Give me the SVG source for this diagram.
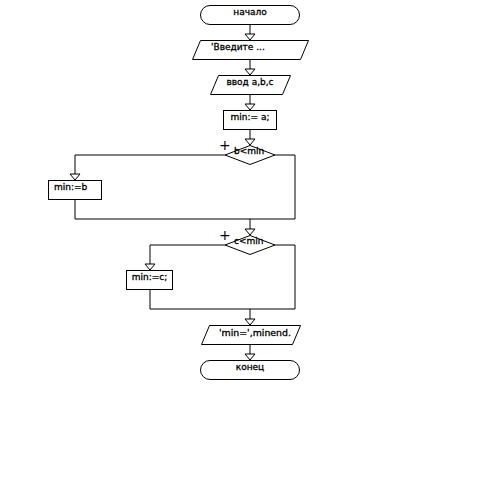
<svg xmlns="http://www.w3.org/2000/svg" width="500" height="500" viewBox="0 0 500 500">
<style>
.s{fill:#fff;stroke:#000;stroke-width:1}
.c{fill:none;stroke:#000;stroke-width:1}
.t{font-family:"DejaVu Sans",sans-serif;font-size:9px;fill:#000;stroke:#000;stroke-width:0.3}
.p{font-family:"DejaVu Sans",sans-serif;font-size:14px;fill:#000}
</style>
<defs>
<marker id="a" markerWidth="12" markerHeight="8" refX="5.5" refY="6.5" markerUnits="userSpaceOnUse" orient="0" overflow="visible">
<path d="M0.5,0.5 L10.5,0.5 L5.5,6.5 Z" fill="#fff" stroke="#000" stroke-width="1"/>
</marker>
</defs>
<rect width="500" height="500" fill="#fff"/>
<g id="connectors">
<path class="c" d="M250,24 V40" marker-end="url(#a)"/>
<path class="c" d="M250,59 V75" marker-end="url(#a)"/>
<path class="c" d="M250,94 V110" marker-end="url(#a)"/>
<path class="c" d="M250,129 V145" marker-end="url(#a)"/>
<path class="c" d="M225,155 H75 V180" marker-end="url(#a)"/>
<path class="c" d="M75,200 V219 H295 V155 H275"/>
<path class="c" d="M250,219 V235" marker-end="url(#a)"/>
<path class="c" d="M225,245 H150 V270" marker-end="url(#a)"/>
<path class="c" d="M150,290 V309 H295 V245 H275"/>
<path class="c" d="M250,309 V325" marker-end="url(#a)"/>
<path class="c" d="M250,344 V360" marker-end="url(#a)"/>
<text class="p" x="219" y="150">+</text>
<text class="p" x="219" y="240">+</text>
</g>
<g id="start">
<rect class="s" x="200.5" y="5.5" width="99" height="19" rx="9.5"/>
<text class="t" x="250" y="15" text-anchor="middle">начало</text>
</g>
<g id="input1">
<path class="s" d="M200.5,40.5 H308.5 L300.5,59.5 H192.5 Z"/>
<text class="t" x="211" y="49.5">'Введите ...</text>
</g>
<g id="input2">
<path class="s" d="M218.5,75.5 H290.5 L282.5,94.5 H210.5 Z"/>
<text class="t" x="250" y="85" text-anchor="middle">ввод a,b,c</text>
</g>
<g id="assign1">
<rect class="s" x="223.5" y="110.5" width="53" height="19"/>
<text class="t" x="250" y="120" text-anchor="middle">min:= a;</text>
</g>
<g id="cond1">
<path class="s" d="M250,145.5 L275,155 L250,164.5 L225,155 Z"/>
<text class="t" x="234" y="154">b&lt;min</text>
</g>
<g id="assign2">
<rect class="s" x="48.5" y="180.5" width="53" height="19"/>
<text class="t" x="54" y="190">min:=b</text>
</g>
<g id="cond2">
<path class="s" d="M250,235.5 L275,245 L250,254.5 L225,245 Z"/>
<text class="t" x="234" y="244">c&lt;min</text>
</g>
<g id="assign3">
<rect class="s" x="126.5" y="270.5" width="46" height="19"/>
<text class="t" x="149.5" y="280" text-anchor="middle">min:=c;</text>
</g>
<g id="output">
<path class="s" d="M209.5,325.5 H300.5 L292.5,344.5 H201.5 Z"/>
<text class="t" x="219" y="336" textLength="72" lengthAdjust="spacingAndGlyphs">'min=',minend.</text>
</g>
<g id="end">
<rect class="s" x="200.5" y="360.5" width="99" height="19" rx="9.5"/>
<text class="t" x="250" y="369.5" text-anchor="middle">конец</text>
</g>
</svg>
